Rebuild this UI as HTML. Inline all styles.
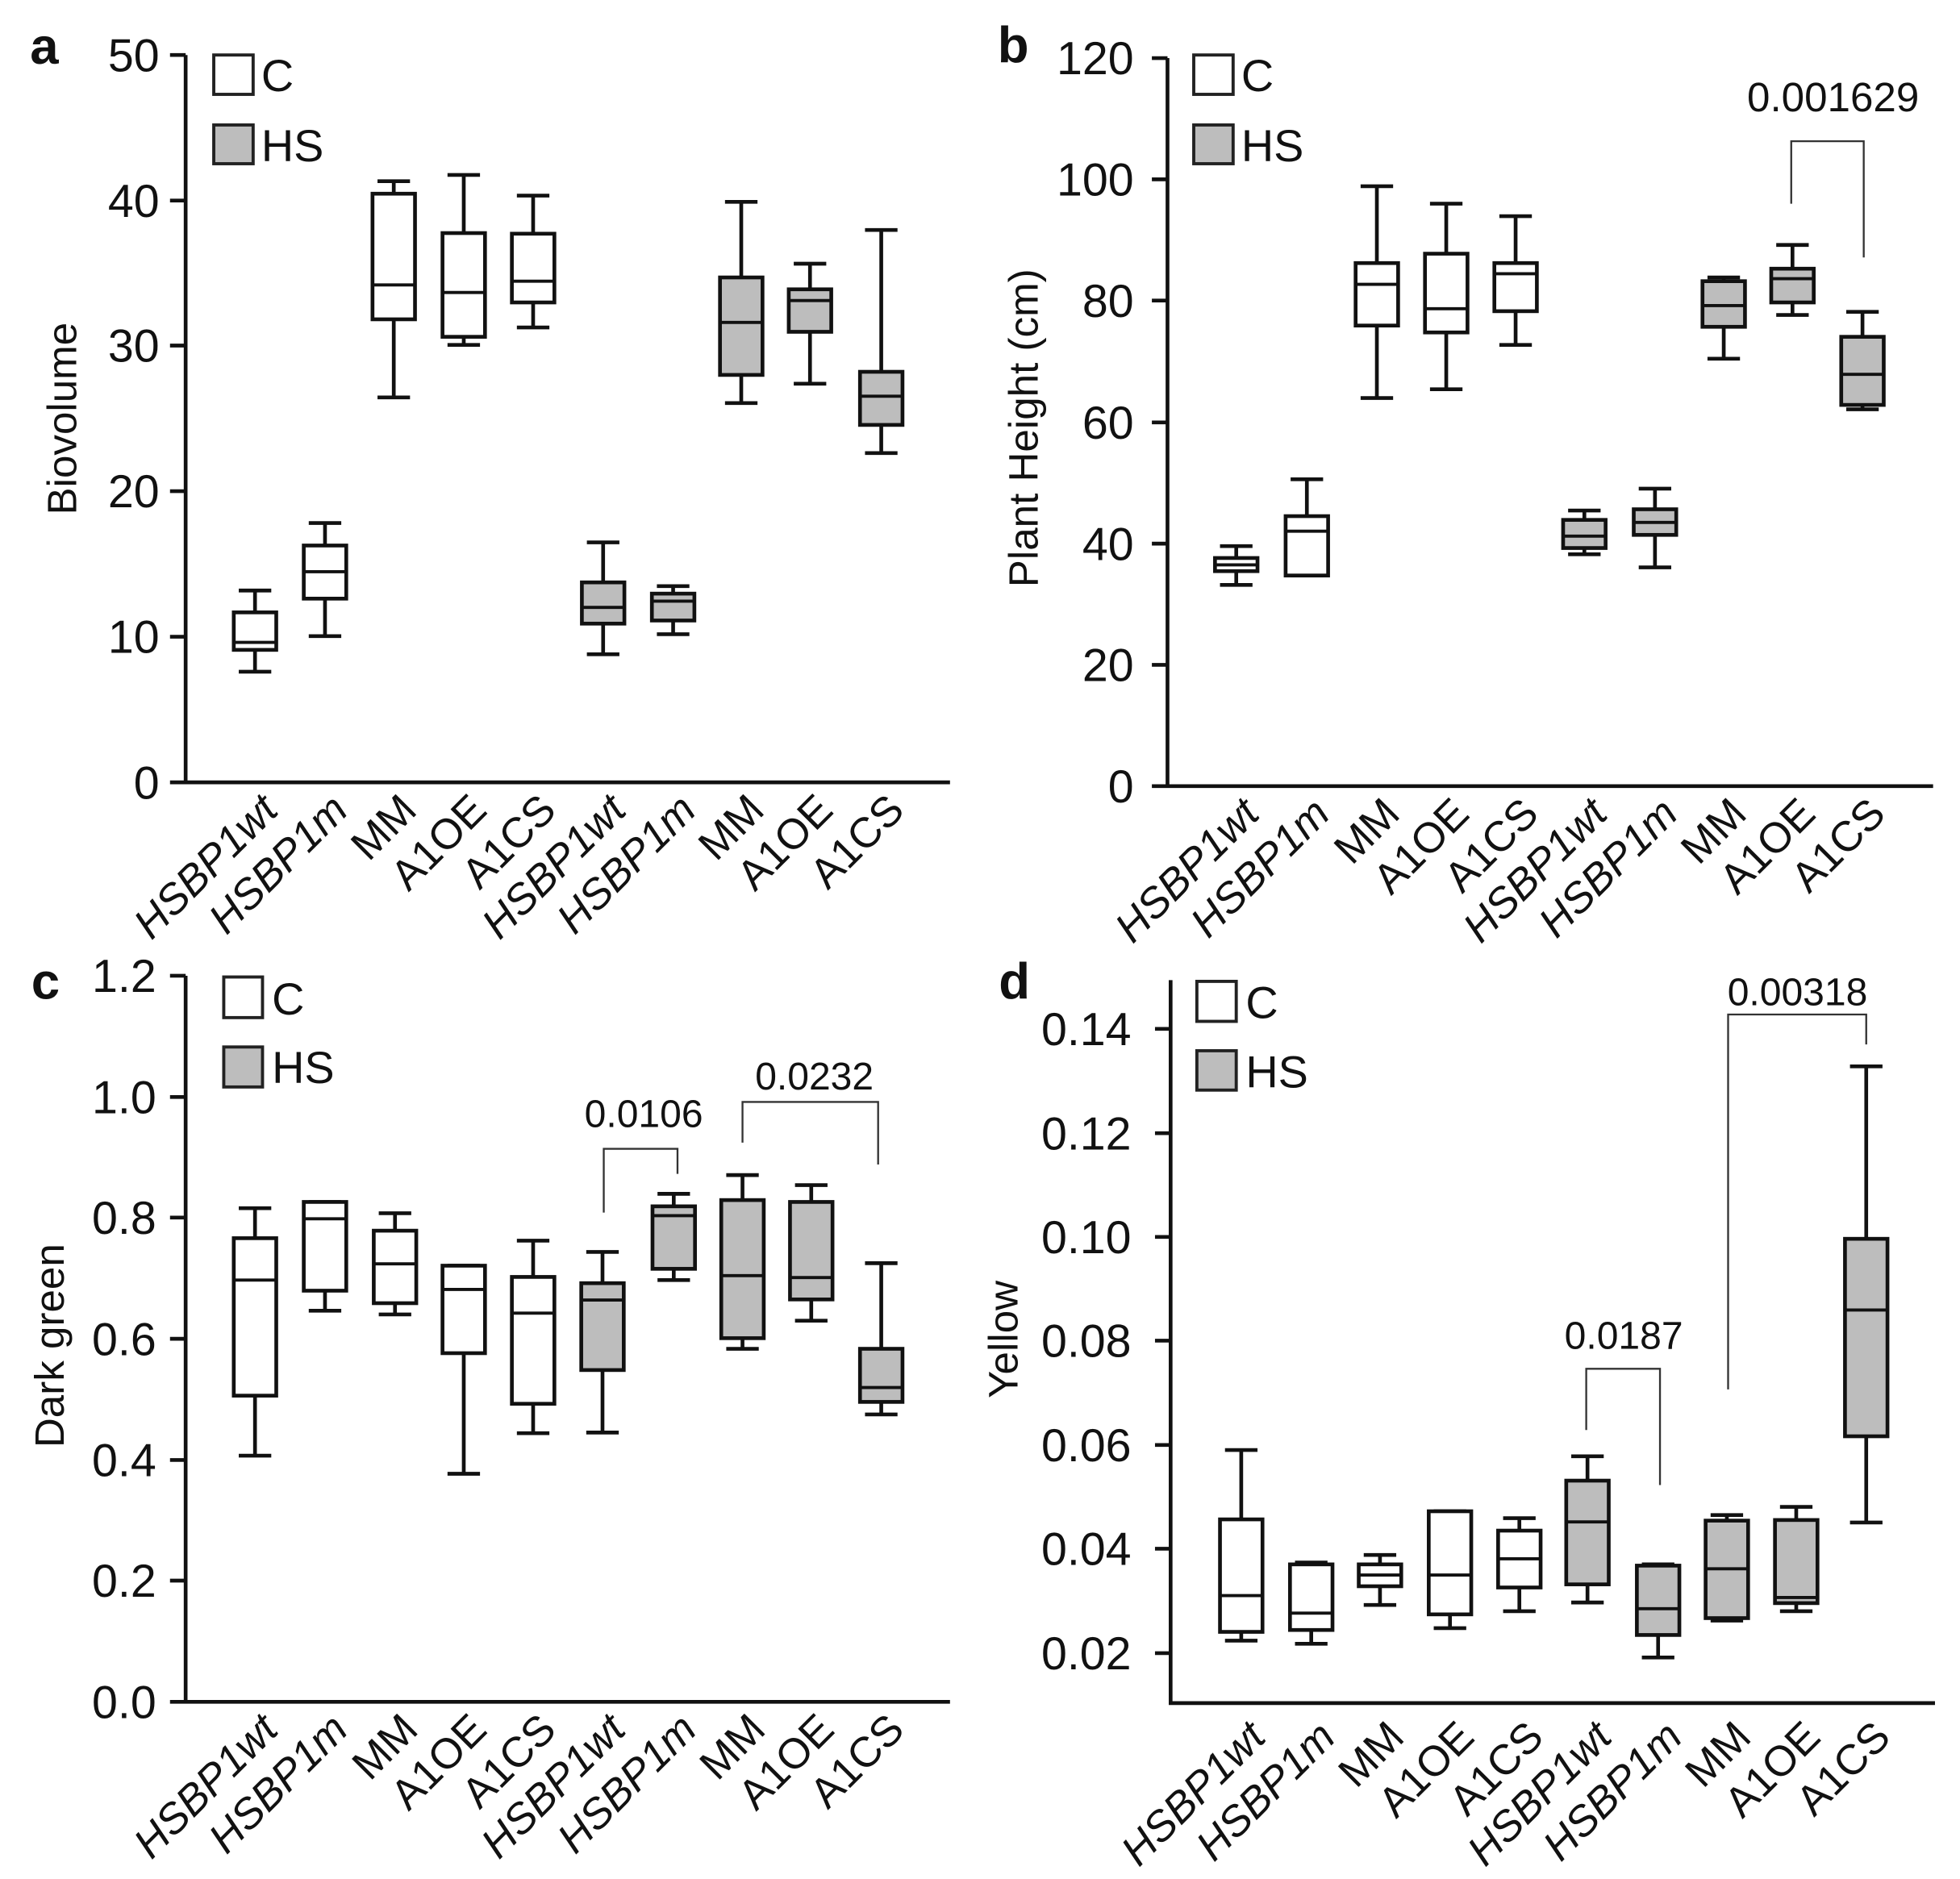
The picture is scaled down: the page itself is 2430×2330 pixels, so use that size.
<!DOCTYPE html>
<html><head><meta charset="utf-8"><style>
html,body{margin:0;padding:0;background:#fff}
svg{display:block}
text{font-family:"Liberation Sans",Arial,sans-serif;fill:#111}
.tk{font-size:74px;text-anchor:end}
.xl{font-size:68px;text-anchor:end}
.it{font-style:italic}
.yt{font-size:66px;text-anchor:middle}
.lg{font-size:72px}
.pv{font-size:62px;text-anchor:middle}
.pl{font-size:82px;font-weight:bold}
</style></head><body>
<svg id="s" width="2430" height="2330" viewBox="0 0 3136 3007" xmlns="http://www.w3.org/2000/svg">
<rect width="3136" height="3007" fill="#fff"/>
<!-- Panel a -->
<g transform="translate(0,0)">
<text class="pl" x="48" y="102">a</text>
<path d="M297,88V1252H1520M272,88H297M272,321H297M272,553H297M272,786H297M272,1019H297M272,1252H297" stroke="#111" stroke-width="6" fill="none"/>
<text class="tk" x="255" y="114">50</text><text class="tk" x="255" y="347">40</text><text class="tk" x="255" y="579">30</text><text class="tk" x="255" y="812">20</text><text class="tk" x="255" y="1045">10</text><text class="tk" x="255" y="1278">0</text>
<text class="yt" transform="translate(122,670) rotate(-90)">Biovolume</text>
<rect x="342" y="88" width="63" height="63" fill="#fff" stroke="#222" stroke-width="5"/><text class="lg" x="418" y="146">C</text>
<rect x="342" y="200" width="63" height="62" fill="#bdbdbd" stroke="#222" stroke-width="5"/><text class="lg" x="418" y="258">HS</text>
<g id="xa">
<text class="xl it" transform="translate(448,1300) rotate(-45)">HSBP1wt</text>
<text class="xl it" transform="translate(560,1300) rotate(-45)">HSBP1m</text>
<text class="xl" transform="translate(670,1300) rotate(-45)">MM</text>
<text class="xl" transform="translate(782,1300) rotate(-45)">A1OE</text>
<text class="xl" transform="translate(893,1300) rotate(-45)">A1CS</text>
<text class="xl it" transform="translate(1005,1300) rotate(-45)">HSBP1wt</text>
<text class="xl it" transform="translate(1117,1300) rotate(-45)">HSBP1m</text>
<text class="xl" transform="translate(1226,1300) rotate(-45)">MM</text>
<text class="xl" transform="translate(1336,1300) rotate(-45)">A1OE</text>
<text class="xl" transform="translate(1450,1300) rotate(-45)">A1CS</text>
</g>
<g id="ba"></g>
</g>
<!-- Panel b -->
<g transform="translate(1568,0)">
<text class="pl" x="28" y="100">b</text>
<path d="M300,93V1258H1525M275,93H300M275,287H300M275,481H300M275,676H300M275,870H300M275,1064H300M275,1258H300" stroke="#111" stroke-width="6" fill="none"/>
<text class="tk" x="246" y="119">120</text><text class="tk" x="246" y="313">100</text><text class="tk" x="246" y="507">80</text><text class="tk" x="246" y="702">60</text><text class="tk" x="246" y="896">40</text><text class="tk" x="246" y="1090">20</text><text class="tk" x="246" y="1284">0</text>
<text class="yt" transform="translate(92,685) rotate(-90)">Plant Height (cm)</text>
<rect x="342" y="88" width="63" height="63" fill="#fff" stroke="#222" stroke-width="5"/><text class="lg" x="418" y="146">C</text>
<rect x="342" y="200" width="63" height="62" fill="#bdbdbd" stroke="#222" stroke-width="5"/><text class="lg" x="418" y="258">HS</text>
<path d="M1298,326V226H1414V412" stroke="#333" stroke-width="3" fill="none"/>
<text class="pv" x="1365" y="178" style="font-size:66px">0.001629</text>
<g>
<text class="xl it" transform="translate(450,1306) rotate(-45)">HSBP1wt</text>
<text class="xl it" transform="translate(563,1306) rotate(-45)">HSBP1m</text>
<text class="xl" transform="translate(675,1306) rotate(-45)">MM</text>
<text class="xl" transform="translate(786,1306) rotate(-45)">A1OE</text>
<text class="xl" transform="translate(897,1306) rotate(-45)">A1CS</text>
<text class="xl it" transform="translate(1007,1306) rotate(-45)">HSBP1wt</text>
<text class="xl it" transform="translate(1120,1306) rotate(-45)">HSBP1m</text>
<text class="xl" transform="translate(1230,1306) rotate(-45)">MM</text>
<text class="xl" transform="translate(1340,1306) rotate(-45)">A1OE</text>
<text class="xl" transform="translate(1452,1306) rotate(-45)">A1CS</text>
</g>
<g id="bb"></g>
</g>
<!-- Panel c -->
<g transform="translate(0,1503.5)">
<text class="pl" x="50" y="95">c</text>
<path d="M297,58V1220H1520M272,58H297M272,252H297M272,445H297M272,639H297M272,833H297M272,1026H297M272,1220H297" stroke="#111" stroke-width="6" fill="none"/>
<text class="tk" x="250" y="84">1.2</text><text class="tk" x="250" y="278">1.0</text><text class="tk" x="250" y="471">0.8</text><text class="tk" x="250" y="665">0.6</text><text class="tk" x="250" y="859">0.4</text><text class="tk" x="250" y="1052">0.2</text><text class="tk" x="250" y="1246">0.0</text>
<text class="yt" transform="translate(102,650) rotate(-90)">Dark green</text>
<rect x="358" y="60" width="62" height="65" fill="#fff" stroke="#222" stroke-width="5"/><text class="lg" x="435" y="120">C</text>
<rect x="358" y="172" width="62" height="64" fill="#bdbdbd" stroke="#222" stroke-width="5"/><text class="lg" x="435" y="230">HS</text>
<path d="M966,437V335H1084V375M1188,325V260H1405V360" stroke="#333" stroke-width="3" fill="none"/>
<text class="pv" x="1030" y="300">0.0106</text>
<text class="pv" x="1303" y="240">0.0232</text>
<g>
<text class="xl it" transform="translate(448,1268) rotate(-45)">HSBP1wt</text>
<text class="xl it" transform="translate(560,1268) rotate(-45)">HSBP1m</text>
<text class="xl" transform="translate(672,1268) rotate(-45)">MM</text>
<text class="xl" transform="translate(782,1268) rotate(-45)">A1OE</text>
<text class="xl" transform="translate(893,1268) rotate(-45)">A1CS</text>
<text class="xl it" transform="translate(1004,1268) rotate(-45)">HSBP1wt</text>
<text class="xl it" transform="translate(1118,1268) rotate(-45)">HSBP1m</text>
<text class="xl" transform="translate(1228,1268) rotate(-45)">MM</text>
<text class="xl" transform="translate(1338,1268) rotate(-45)">A1OE</text>
<text class="xl" transform="translate(1450,1268) rotate(-45)">A1CS</text>
</g>
<g id="bc"></g>
</g>
<!-- Panel d -->
<g transform="translate(1568,1503.5)">
<text class="pl" x="30" y="95">d</text>
<path d="M305,65V1222H1528M280,143H305M280,310H305M280,476H305M280,642H305M280,809H305M280,975H305M280,1142H305" stroke="#111" stroke-width="6" fill="none"/>
<text class="tk" x="242" y="169">0.14</text><text class="tk" x="242" y="336">0.12</text><text class="tk" x="242" y="502">0.10</text><text class="tk" x="242" y="668">0.08</text><text class="tk" x="242" y="835">0.06</text><text class="tk" x="242" y="1001">0.04</text><text class="tk" x="242" y="1168">0.02</text>
<text class="yt" transform="translate(60,640) rotate(-90)">Yellow</text>
<rect x="347" y="67" width="63" height="64" fill="#fff" stroke="#222" stroke-width="5"/><text class="lg" x="425" y="126">C</text>
<rect x="347" y="178" width="63" height="63" fill="#bdbdbd" stroke="#222" stroke-width="5"/><text class="lg" x="425" y="237">HS</text>
<path d="M970,785V687H1088V873M1197,720V120H1418V168" stroke="#333" stroke-width="3" fill="none"/>
<text class="pv" x="1030" y="655">0.0187</text>
<text class="pv" x="1308" y="105">0.00318</text>
<g>
<text class="xl it" transform="translate(460,1280) rotate(-45)">HSBP1wt</text>
<text class="xl it" transform="translate(572,1280) rotate(-45)">HSBP1m</text>
<text class="xl" transform="translate(682,1280) rotate(-45)">MM</text>
<text class="xl" transform="translate(794,1280) rotate(-45)">A1OE</text>
<text class="xl" transform="translate(905,1280) rotate(-45)">A1CS</text>
<text class="xl it" transform="translate(1014,1280) rotate(-45)">HSBP1wt</text>
<text class="xl it" transform="translate(1127,1280) rotate(-45)">HSBP1m</text>
<text class="xl" transform="translate(1237,1280) rotate(-45)">MM</text>
<text class="xl" transform="translate(1348,1280) rotate(-45)">A1OE</text>
<text class="xl" transform="translate(1460,1280) rotate(-45)">A1CS</text>
</g>
<g id="bd"></g>
</g>
</svg>
<script>
var NS="http://www.w3.org/2000/svg";
function el(t,a,p){var e=document.createElementNS(NS,t);for(var k in a)e.setAttribute(k,a[k]);p.appendChild(e);return e;}
var P={
ba:{c:[408,520,630,742,853,965,1077,1186,1296,1410],d:[[945,1075,980,1040,1028],[837,1018,873,958,915],[290,636,310,511,456],[280,552,373,539,468],[313,524,374,484,450],[868,1047,932,998,972],[938,1015,950,993,962],[323,645,444,600,516],[422,614,463,531,481],[368,725,595,680,634]]},
bb:{c:[410,523,635,746,857,967,1080,1190,1300,1412],d:[[874,936,893,914,904],[767,921,826,921,850],[298,637,421,521,455],[326,623,406,532,494],[346,552,421,498,438],[817,887,832,877,858],[782,908,815,856,836],[444,574,450,523,489],[392,504,430,484,446],[499,655,539,648,599]]},
bc:{c:[408,520,632,742,853,964,1078,1188,1298,1410],d:[[430,826,478,730,545],[420,594,420,562,447],[438,600,466,582,519],[522,855,522,662,560],[482,790,540,743,598],[500,789,550,689,577],[407,545,427,527,442],[377,655,417,638,538],[393,610,420,576,541],[518,760,655,740,717]]},
bd:{c:[418,530,640,752,863,972,1085,1195,1306,1418],d:[[817,1122,928,1108,1050],[997,1127,1000,1105,1078],[985,1065,1000,1035,1017],[915,1102,915,1080,1017],[926,1075,946,1037,991],[827,1061,866,1032,932],[1000,1149,1002,1113,1071],[921,1090,930,1086,1007],[908,1075,929,1062,1053],[203,933,479,795,593]]}
};
for(var id in P){var g=document.getElementById(id),p=P[id];
for(var i=0;i<10;i++){var c=p.c[i],d=p.d[i];
el("path",{d:"M"+c+","+d[0]+"V"+d[2]+"M"+c+","+d[3]+"V"+d[1]+"M"+(c-26)+","+d[0]+"h52M"+(c-26)+","+d[1]+"h52",stroke:"#111","stroke-width":6,fill:"none"},g);
el("rect",{x:c-34,y:d[2],width:68,height:d[3]-d[2],fill:i<5?"#fff":"#bdbdbd",stroke:"#111","stroke-width":6},g);
el("path",{d:"M"+(c-34)+","+d[4]+"h68",stroke:"#111","stroke-width":5},g);}}
</script>
</body></html>
